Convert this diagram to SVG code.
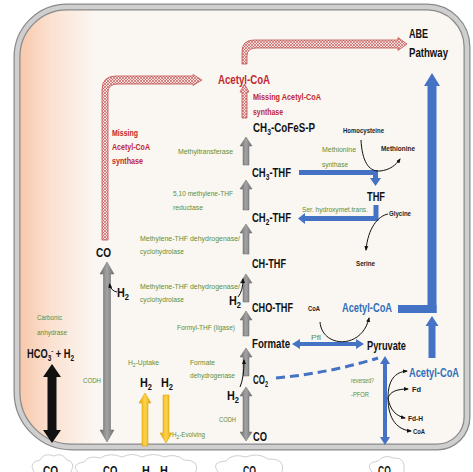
<svg xmlns="http://www.w3.org/2000/svg" width="473" height="472" viewBox="0 0 473 472">
<defs>
<linearGradient id="peach" gradientUnits="userSpaceOnUse" x1="17" y1="0" x2="95" y2="0">
<stop offset="0" stop-color="#f8c6a8"/><stop offset="0.45" stop-color="#fbe2d2"/><stop offset="1" stop-color="#faf6f2"/>
</linearGradient>
<linearGradient id="grayg" x1="0" y1="0" x2="1" y2="0">
<stop offset="0" stop-color="#6e6e6e"/><stop offset="0.5" stop-color="#a3a3a3"/><stop offset="1" stop-color="#6e6e6e"/>
</linearGradient>
<linearGradient id="yelg" x1="0" y1="0" x2="1" y2="0">
<stop offset="0" stop-color="#e3a800"/><stop offset="0.5" stop-color="#ffd34d"/><stop offset="1" stop-color="#e3a800"/>
</linearGradient>
<pattern id="hatch" width="3" height="3" patternUnits="userSpaceOnUse">
<rect width="3" height="3" fill="#f6dcdc"/>
<path d="M0,0 L3,3 M3,0 L0,3" stroke="#c0504d" stroke-width="0.6"/>
</pattern>
<marker id="ah" viewBox="0 0 10 10" refX="8" refY="5" markerWidth="5" markerHeight="5" orient="auto">
<path d="M0,1 L10,5 L0,9 z" fill="#111"/>
</marker>
<style>
text{font-family:"Liberation Sans",Arial,sans-serif}
.n{font-weight:bold;font-size:13px;fill:#111}
.g{font-size:8px;fill:#5f8f34}
.r{font-weight:bold;font-size:9.5px;fill:#c0282e}
.s{font-weight:bold;font-size:7.5px;fill:#222}
.b{font-weight:bold;font-size:13px;fill:#2f6fba}
.ra{font-weight:bold;font-size:13px;fill:#c0282e}
.ga{fill:url(#grayg);stroke:#666;stroke-width:0.5}
.ya{fill:url(#yelg);stroke:#d19a00;stroke-width:0.5}
.bl{fill:#4472c4}
.pk{fill:url(#hatch);stroke:#c0504d;stroke-width:0.8}
.thin{fill:none;stroke:#111;stroke-width:1;marker-end:url(#ah)}
.cl{fill:#fff;stroke:#cfcfcf;stroke-width:1}
</style>
</defs>
<rect width="473" height="472" fill="#fff"/>
<g id="clouds">
<path class="cl" d="M34,472 Q28,462 40,460 Q44,452 54,456 Q62,452 67,460 Q76,462 71,472"/>
<path class="cl" d="M78,472 Q70,464 84,462 Q88,455 100,458 Q110,452 122,457 Q132,452 142,457 Q154,452 164,457 Q176,453 184,460 Q200,460 196,472"/>
<path class="cl" d="M218,472 Q210,462 226,461 Q232,453 246,457 Q258,452 268,459 Q286,458 282,472"/>
<path class="cl" d="M372,472 Q364,463 378,461 Q384,454 394,458 Q406,457 404,472"/>
</g>
<g id="cell">
<path d="M67,7 H427 A40,40 0 0 1 467,47 V417 A30,30 0 0 1 437,447 H72 A55,55 0 0 1 17,392 V57 A50,50 0 0 1 67,7 Z" fill="url(#peach)"/>
<path d="M67,7 H427 A40,40 0 0 1 467,47 V417 A30,30 0 0 1 437,447 H72 A55,55 0 0 1 17,392 V57 A50,50 0 0 1 67,7 Z" fill="none" stroke="#8a8a8a" stroke-width="7"/>
<path d="M67,7 H427 A40,40 0 0 1 467,47 V417 A30,30 0 0 1 437,447 H72 A55,55 0 0 1 17,392 V57 A50,50 0 0 1 67,7 Z" fill="none" stroke="#cfcfcf" stroke-width="4.5"/>
</g>
<g id="connectors">
<path class="pk" d="M102,240 V90 Q102,76 116,76 H193 V74.5 L202,80 L193,85.5 V84 H118 Q108,84 108,92 V240 Z"/>
<path class="pk" d="M242,64 V52 Q242,40 254,40 H398 V37.5 L407,44 L398,50.5 V48 H256 Q247,48 247,56 V64 Z"/>
<path class="pk" d="M242,118 V92 H240 L244.5,84 L249,92 H247 V118 Z"/>
<polygon class="ga" points="243,165 243,146 240,146 246,137 252,146 249,146 249,165"/>
<polygon class="ga" points="243,210 243,189 240,189 246,180 252,189 249,189 249,210"/>
<polygon class="ga" points="243,254 243,233 240,233 246,224 252,233 249,233 249,254"/>
<polygon class="ga" points="243,302 243,283 240,283 246,274 252,283 249,283 249,302"/>
<polygon class="ga" points="243,336 243,320 240,320 246,311 252,320 249,320 249,336"/>
<polygon class="ga" points="243,376 243,357 240,357 246,348 252,357 249,357 249,376"/>
<polygon class="ga" points="246,387 252,396 249,396 249,432 252,432 246,441 240,432 243,432 243,396 240,396"/>
<polygon class="ga" points="107,262 114,274 110.5,274 110.5,430 114,430 107,442 100,430 103.5,430 103.5,274 100,274"/>
<polygon fill="#111" points="52,364 61,377 56.5,377 56.5,430 61,430 52,443 43,430 47.5,430 47.5,377 43,377"/>
<polygon class="ya" points="142,446 142,403 139,403 145,393 151,403 148,403 148,446"/>
<polygon class="ya" points="163,395 163,433 160,433 166,443 172,433 169,433 169,395"/>
<path class="thin" d="M117,292 Q111,291 109.5,284"/>
<path class="thin" d="M238,297 Q243,291 243,279"/>
<path class="thin" d="M240,387 Q244,378 244,360"/>
<polygon class="bl" points="427.5,313 427.5,86 424,86 432,73 440,86 436.5,86 436.5,313"/>
<rect class="bl" x="398" y="305" width="38.5" height="8"/>
<polygon class="bl" points="428.5,358 428.5,326 425.5,326 432,316 438.5,326 435.5,326 435.5,358"/>
<polygon class="bl" points="385,356 390,364 387,364 387,437 390,437 385,445 380,437 383,437 383,364 380,364"/>
<polygon class="bl" points="292,344 300,339 300,342 356,342 356,339 364,344 356,349 356,346 300,346 300,349"/>
<path class="bl" d="M299,170 H378 V178 H381 L375.5,186 L370,178 H373 V175 H299 Z"/>
<path class="bl" d="M373.5,205 H378.5 V221 H305 V224 L298,218.5 L305,213 V216 H373.5 Z"/>
<path d="M276,378 Q330,373 378,358" fill="none" stroke="#4472c4" stroke-width="3" stroke-dasharray="9,5"/>
<path class="thin" d="M361,140 C362,160 368,172 380,171 C390,170 396,165 400,159"/>
<path class="thin" d="M388,214 C378,216 368,228 366,250"/>
<path class="thin" d="M320,322 C322,348 362,350 369,318"/>
<path class="thin" d="M388,398 C388,380 395,372 407,371"/>
<path class="thin" d="M388,398 C390,392 396,389 408,389"/>
<path class="thin" d="M388,398 C390,410 396,416 405,418"/>
<path class="thin" d="M388,398 C388,420 398,430 411,431"/>
</g>
<g id="abe"><text class="n" x="409" y="38" textLength="19" lengthAdjust="spacingAndGlyphs">ABE</text><text class="n" x="409" y="57" textLength="39" lengthAdjust="spacingAndGlyphs">Pathway</text></g>
<g id="acetylcoa-red"><text class="ra" x="218" y="84" textLength="52" lengthAdjust="spacingAndGlyphs">Acetyl-CoA</text></g>
<g id="missing-top"><text class="r" x="253" y="100" textLength="68" lengthAdjust="spacingAndGlyphs">Missing Acetyl-CoA</text><text class="r" x="253" y="115" textLength="30" lengthAdjust="spacingAndGlyphs">synthase</text></g>
<g id="missing-left"><text class="r" x="112" y="136" textLength="26" lengthAdjust="spacingAndGlyphs">Missing</text><text class="r" x="112" y="150" textLength="38" lengthAdjust="spacingAndGlyphs">Acetyl-CoA</text><text class="r" x="112" y="164" textLength="31" lengthAdjust="spacingAndGlyphs">synthase</text></g>
<g id="ch3cofesp"><text class="n" x="253" y="132" textLength="62" lengthAdjust="spacingAndGlyphs">CH<tspan dy="3" font-size="9">3</tspan><tspan dy="-3">-CoFeS-P</tspan></text></g>
<g id="ch3thf"><text class="n" x="252" y="177" textLength="39" lengthAdjust="spacingAndGlyphs">CH<tspan dy="3" font-size="9">3</tspan><tspan dy="-3">-THF</tspan></text></g>
<g id="ch2thf"><text class="n" x="252" y="222" textLength="39" lengthAdjust="spacingAndGlyphs">CH<tspan dy="3" font-size="9">2</tspan><tspan dy="-3">-THF</tspan></text></g>
<g id="chthf"><text class="n" x="252" y="268" textLength="34" lengthAdjust="spacingAndGlyphs">CH-THF</text></g>
<g id="chothf"><text class="n" x="252" y="312" textLength="41" lengthAdjust="spacingAndGlyphs">CHO-THF</text></g>
<g id="formate"><text class="n" x="252" y="348" textLength="38" lengthAdjust="spacingAndGlyphs">Formate</text></g>
<g id="co2-mid"><text class="n" x="253" y="384" textLength="15" lengthAdjust="spacingAndGlyphs">CO<tspan dy="3" font-size="9">2</tspan></text></g>
<g id="co-mid"><text class="n" x="253" y="441" textLength="14" lengthAdjust="spacingAndGlyphs">CO</text></g>
<g id="co-left"><text class="n" x="96" y="257" textLength="15" lengthAdjust="spacingAndGlyphs">CO</text></g>
<g id="hco3"><text class="n" x="27" y="358" textLength="47" lengthAdjust="spacingAndGlyphs">HCO<tspan dy="3" font-size="9">3</tspan><tspan dy="-8" font-size="8">-</tspan><tspan dy="5"> + H</tspan><tspan dy="3" font-size="9">2</tspan></text></g>
<g id="h2-labels">
<text class="n" x="117" y="297" textLength="12" lengthAdjust="spacingAndGlyphs">H<tspan dy="3" font-size="9">2</tspan></text>
<text class="n" x="229" y="305" textLength="12" lengthAdjust="spacingAndGlyphs">H<tspan dy="3" font-size="9">2</tspan></text>
<text class="n" x="227" y="400" textLength="12" lengthAdjust="spacingAndGlyphs">H<tspan dy="3" font-size="9">2</tspan></text>
<text class="n" x="140" y="387" textLength="12" lengthAdjust="spacingAndGlyphs">H<tspan dy="3" font-size="9">2</tspan></text>
<text class="n" x="161" y="387" textLength="12" lengthAdjust="spacingAndGlyphs">H<tspan dy="3" font-size="9">2</tspan></text>
</g>
<g id="thf"><text class="n" x="367" y="201" textLength="18" lengthAdjust="spacingAndGlyphs">THF</text></g>
<g id="pyruvate"><text class="n" x="367" y="350" textLength="39" lengthAdjust="spacingAndGlyphs">Pyruvate</text></g>
<g id="acetylcoa-blue1"><text class="b" x="342" y="312" textLength="50" lengthAdjust="spacingAndGlyphs">Acetyl-CoA</text></g>
<g id="acetylcoa-blue2"><text class="b" x="409" y="377" textLength="50" lengthAdjust="spacingAndGlyphs">Acetyl-CoA</text></g>
<g id="enzymes">
<text class="g" x="178" y="154" textLength="55" lengthAdjust="spacingAndGlyphs">Methyltransferase</text>
<text class="g" x="173" y="196" textLength="60" lengthAdjust="spacingAndGlyphs">5,10 methylene-THF</text><text class="g" x="173" y="210" textLength="30" lengthAdjust="spacingAndGlyphs">reductase</text>
<text class="g" x="140" y="241" textLength="100" lengthAdjust="spacingAndGlyphs">Methylene-THF dehydrogenase/</text><text class="g" x="140" y="254" textLength="44" lengthAdjust="spacingAndGlyphs">cyclohydrolase</text>
<text class="g" x="140" y="289" textLength="100" lengthAdjust="spacingAndGlyphs">Methylene-THF dehydrogenase/</text><text class="g" x="140" y="302" textLength="44" lengthAdjust="spacingAndGlyphs">cyclohydrolase</text>
<text class="g" x="177" y="330" textLength="58" lengthAdjust="spacingAndGlyphs">Formyl-THF (ligase)</text>
<text class="g" x="190" y="365" textLength="25" lengthAdjust="spacingAndGlyphs">Formate</text><text class="g" x="190" y="378" textLength="45" lengthAdjust="spacingAndGlyphs">dehydrogenase</text>
<text class="g" x="219" y="422" textLength="17" lengthAdjust="spacingAndGlyphs">CODH</text>
<text class="g" x="172" y="437" textLength="33" lengthAdjust="spacingAndGlyphs">H<tspan dy="2" font-size="6">2</tspan><tspan dy="-2">-Evolving</tspan></text>
<text class="g" x="128" y="365" textLength="31" lengthAdjust="spacingAndGlyphs">H<tspan dy="2" font-size="6">2</tspan><tspan dy="-2">-Uptake</tspan></text>
<text class="g" x="83" y="383" textLength="18" lengthAdjust="spacingAndGlyphs">CODH</text>
<text class="g" x="37" y="320" textLength="25" lengthAdjust="spacingAndGlyphs">Carbonic</text><text class="g" x="37" y="335" textLength="30" lengthAdjust="spacingAndGlyphs">anhydrase</text>
<text class="g" x="322" y="152" textLength="34" lengthAdjust="spacingAndGlyphs">Methionine</text><text class="g" x="322" y="167" textLength="26" lengthAdjust="spacingAndGlyphs">synthase</text>
<text class="g" x="302" y="212" textLength="66" lengthAdjust="spacingAndGlyphs">Ser. hydroxymet.trans.</text>
<text class="g" x="311" y="340" textLength="10" lengthAdjust="spacingAndGlyphs">Pfl</text>
<text class="g" x="351" y="383" textLength="23" lengthAdjust="spacingAndGlyphs">reversed?</text><text class="g" x="351" y="397" textLength="18" lengthAdjust="spacingAndGlyphs">-PFOR</text>
</g>
<g id="small-labels">
<text class="s" x="343" y="133" textLength="41" lengthAdjust="spacingAndGlyphs">Homocysteine</text>
<text class="s" x="381" y="151" textLength="34" lengthAdjust="spacingAndGlyphs">Methionine</text>
<text class="s" x="389" y="216" textLength="22" lengthAdjust="spacingAndGlyphs">Glycine</text>
<text class="s" x="356" y="266" textLength="19" lengthAdjust="spacingAndGlyphs">Serine</text>
<text class="s" x="308" y="311" textLength="12" lengthAdjust="spacingAndGlyphs">CoA</text>
<text class="s" x="412" y="392" textLength="9" lengthAdjust="spacingAndGlyphs">Fd</text>
<text class="s" x="408" y="421" textLength="15" lengthAdjust="spacingAndGlyphs">Fd-H</text>
<text class="s" x="413" y="434" textLength="12" lengthAdjust="spacingAndGlyphs">CoA</text>
</g>
<g id="outside">
<text class="n" x="43" y="475" textLength="19" lengthAdjust="spacingAndGlyphs">CO<tspan dy="3" font-size="9">2</tspan></text>
<text class="n" x="103" y="475" textLength="18" lengthAdjust="spacingAndGlyphs">CO<tspan dy="3" font-size="9">2</tspan></text>
<text class="n" x="142" y="475" textLength="12" lengthAdjust="spacingAndGlyphs">H<tspan dy="3" font-size="9">2</tspan></text>
<text class="n" x="160" y="475" textLength="12" lengthAdjust="spacingAndGlyphs">H<tspan dy="3" font-size="9">2</tspan></text>
<text class="n" x="243" y="475" textLength="13" lengthAdjust="spacingAndGlyphs">CO</text>
<text class="n" x="378" y="475" textLength="16" lengthAdjust="spacingAndGlyphs">CO<tspan dy="3" font-size="9">2</tspan></text>
</g>
</svg>
